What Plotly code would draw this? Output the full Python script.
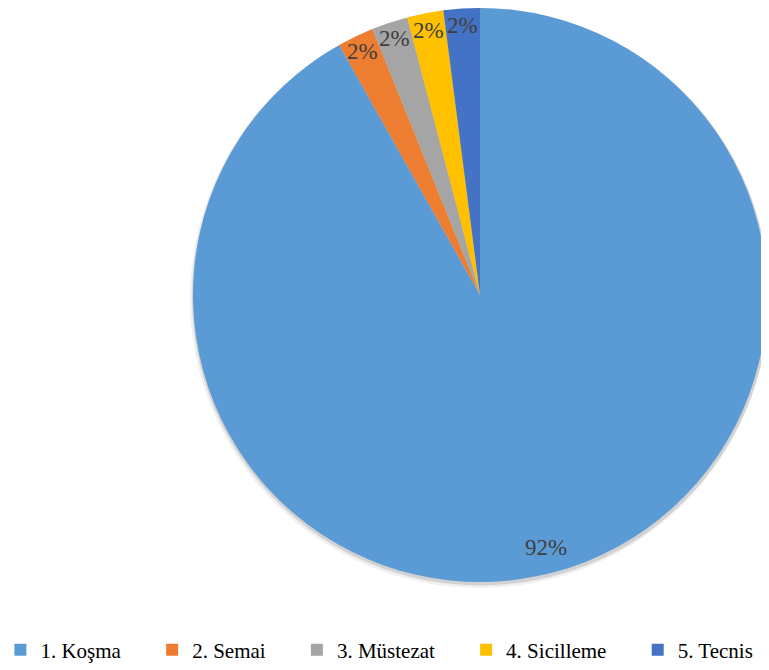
import numpy as np
import plotly.graph_objects as go

labels = ['1. Koşma', '2. Semai', '3. Müstezat', '4. Sicilleme', '5. Tecnis']
values = [45, 1, 1, 1, 1]
colors = ['#5B9BD5', '#ED7D31', '#A5A5A5', '#FFC000', '#4472C4']

# the page body has an 8px margin, so the figure is drawn 8px smaller
W, H = 761, 662
cx, cy, R = 472, 287, 287  # pie centre and radius in figure pixels
SERIF = 'Liberation Serif, Times New Roman, serif'


def dom(r, dx=0, dy=0):
    x0 = max(0, (cx + dx - r) / W)
    x1 = min(1, (cx + dx + r) / W)
    y0 = max(0, 1 - (cy + dy + r) / H)
    y1 = min(1, 1 - (cy + dy - r) / H)
    return dict(x=[x0, x1], y=[y0, y1])


fig = go.Figure()

# soft shadow behind the pie
for r, dx, dy, a in [(R + 4, 1, 3, 0.06), (R + 2, 1, 2, 0.12)]:
    fig.add_trace(go.Pie(
        values=[1], labels=['shadow'], sort=False, showlegend=False,
        textinfo='none', hoverinfo='skip',
        marker=dict(colors=[f'rgba(0,0,0,{a})'], line=dict(width=0)),
        domain=dom(r, dx, dy)
    ))

# pad legend names so the entries spread across the bottom like the original
pad = ['\u00a0' * 5, '\u00a0' * 5, '\u00a0' * 5, '\u00a0' * 5, '']

fig.add_trace(go.Pie(
    labels=[l + p for l, p in zip(labels, pad)], values=values, sort=False,
    direction='clockwise', rotation=0,
    marker=dict(colors=colors, line=dict(width=0)),
    textinfo='none', domain=dom(R)
))

# percentage labels at slice mid angles
vals = np.array(values, dtype=float)
pct = vals / vals.sum()
mid = np.cumsum(pct) - pct / 2
for p, m in zip(pct, mid):
    ang = 2 * np.pi * m
    rf = 0.91 if p > 0.5 else 0.94
    px = cx + rf * R * np.sin(ang)
    py = cy - rf * R * np.cos(ang)
    fig.add_annotation(
        x=px / W, y=1 - py / H, xref='paper', yref='paper',
        xanchor='center', yanchor='middle',
        text=f'{round(p * 100)}%', showarrow=False,
        font=dict(family=SERIF, size=23, color='#404040')
    )

fig.update_layout(
    width=W, height=H,
    margin=dict(l=0, r=0, t=0, b=0, autoexpand=False),
    paper_bgcolor='white', plot_bgcolor='white',
    showlegend=True,
    legend=dict(
        orientation='h', x=-0.01, y=-0.001, xanchor='left', yanchor='bottom',
        font=dict(family=SERIF, size=21, color='#000000'),
        itemwidth=30, traceorder='normal'
    ),
    font=dict(family=SERIF)
)

fig.write_html('out.html')
